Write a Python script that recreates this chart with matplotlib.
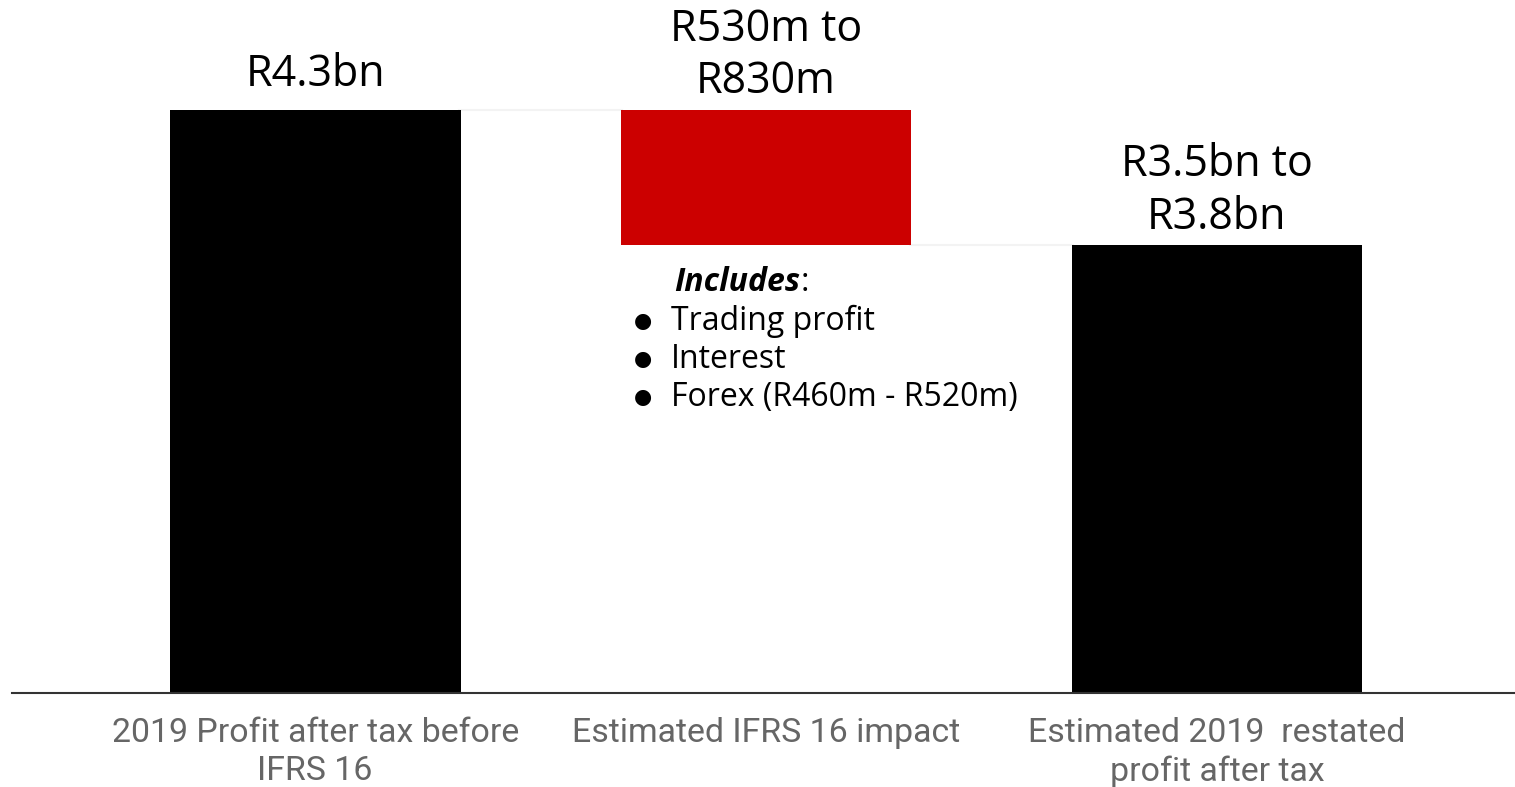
import matplotlib.pyplot as plt
import numpy as np

# waterfall data (R bn)
categories = ["2019 Profit after tax before\nIFRS 16",
              "Estimated IFRS 16 impact",
              "Estimated 2019  restated\nprofit after tax"]
profit_before = 4.3
profit_restated = 3.3
impact = profit_before - profit_restated
value_labels = ["R4.3bn", "R530m to\nR830m", "R3.5bn to\nR3.8bn"]
includes_items = ["Trading profit", "Interest", "Forex (R460m - R520m)"]

bottoms = [0, profit_restated, 0]
heights = [profit_before, impact, profit_restated]
colors = ["#000000", "#cc0000", "#000000"]

fig = plt.figure(figsize=(15.15, 7.87), dpi=100)
ax = fig.add_axes([0.008, 0.1194, 0.992, 0.8806])

x = np.arange(len(categories))
bars = ax.bar(x, heights, bottom=bottoms, width=0.645, color=colors, zorder=2)

# faint connectors between the steps
ax.plot([0.32, 0.68], [profit_before] * 2, color="#f3f3f3", lw=1.5, zorder=1)
ax.plot([1.32, 1.68], [profit_restated] * 2, color="#f3f3f3", lw=1.5, zorder=1)

ax.set_xlim(-0.672, 2.661)
ax.set_ylim(0, 5.11)

for b, lab in zip(bars, value_labels):
    top = b.get_y() + b.get_height()
    off = 4 if "\n" in lab else 9
    ax.annotate(lab, (b.get_x() + b.get_width() / 2, top),
                xytext=(0, off), textcoords="offset points",
                ha="center", va="bottom", fontsize=31, family="Open Sans",
                linespacing=1.24)

# notes under the impact bar
inc = ax.text(0.797, 3.025, "Includes", fontsize=23, family="Open Sans",
              fontweight="bold", fontstyle="italic", va="center", ha="left")
ax.annotate(":", xy=(1, 0.5), xycoords=inc, va="center", ha="left",
            fontsize=23, family="Open Sans")
for i, item in enumerate(includes_items):
    yy = 2.742 - i * 0.28
    ax.text(0.727, yy, "\u25CF", fontsize=15, family=["DejaVu Sans"],
            va="center", ha="center")
    ax.text(0.789, yy, item, fontsize=23, family="Open Sans",
            va="center", ha="left")

ax.set_xticks(x)
ax.set_xticklabels(categories, fontsize=24.4, family="Roboto", color="#666666",
                   linespacing=1.26)
ax.tick_params(axis="x", length=0, pad=17)
ax.set_yticks([])
for s in ["top", "right", "left"]:
    ax.spines[s].set_visible(False)
ax.spines["bottom"].set_color("#333333")
ax.spines["bottom"].set_linewidth(1.5)

fig.savefig("out.png", dpi=100)
